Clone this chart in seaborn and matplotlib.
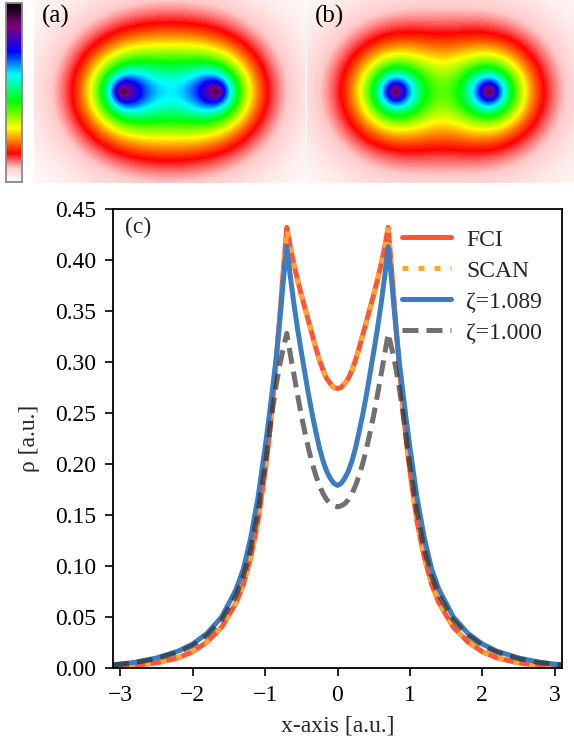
import numpy as np
import pandas as pd
import matplotlib
matplotlib.use("Agg")
import matplotlib.pyplot as plt
import seaborn as sns
from matplotlib.colors import LinearSegmentedColormap

# ---------------- data ----------------
x_axis = [-3.1, -2.8, -2.5, -2.2, -2.0, -1.8, -1.6, -1.4, -1.3, -1.2, -1.1, -1.0,
          -0.95, -0.9, -0.85, -0.8, -0.75, -0.7, -0.65, -0.6, -0.55, -0.5, -0.45,
          -0.4, -0.35, -0.3, -0.25, -0.2, -0.15, -0.1, -0.05, 0.0,
          0.05, 0.1, 0.15, 0.2, 0.25, 0.3, 0.35, 0.4, 0.45, 0.5, 0.55, 0.6, 0.65,
          0.7, 0.75, 0.8, 0.85, 0.9, 0.95, 1.0, 1.1, 1.2, 1.3, 1.4, 1.6, 1.8, 2.0,
          2.2, 2.5, 2.8, 3.1]

rho_fci = [0.0012, 0.0025, 0.0050, 0.0100, 0.0160, 0.0255, 0.0400, 0.0640, 0.0820,
           0.1080, 0.1430, 0.1930, 0.2230, 0.2580, 0.2980, 0.3420, 0.3880, 0.4320,
           0.4120, 0.3950, 0.3800, 0.3660, 0.3530, 0.3400, 0.3270, 0.3140, 0.3020,
           0.2920, 0.2840, 0.2790, 0.2750, 0.2740,
           0.2750, 0.2790, 0.2840, 0.2920, 0.3020, 0.3140, 0.3270, 0.3400, 0.3530,
           0.3660, 0.3800, 0.3950, 0.4120, 0.4320, 0.3880, 0.3420, 0.2980, 0.2580,
           0.2230, 0.1930, 0.1430, 0.1080, 0.0820, 0.0640, 0.0400, 0.0255, 0.0160,
           0.0100, 0.0050, 0.0025, 0.0012]

rho_scan = [0.0012, 0.0026, 0.0051, 0.0101, 0.0161, 0.0256, 0.0402, 0.0642, 0.0822,
            0.1082, 0.1432, 0.1932, 0.2232, 0.2582, 0.2982, 0.3420, 0.3870, 0.4300,
            0.4110, 0.3945, 0.3795, 0.3655, 0.3525, 0.3395, 0.3265, 0.3135, 0.3015,
            0.2915, 0.2835, 0.2785, 0.2745, 0.2735,
            0.2745, 0.2785, 0.2835, 0.2915, 0.3015, 0.3135, 0.3265, 0.3395, 0.3525,
            0.3655, 0.3795, 0.3945, 0.4110, 0.4300, 0.3870, 0.3420, 0.2982, 0.2582,
            0.2232, 0.1932, 0.1432, 0.1082, 0.0822, 0.0642, 0.0402, 0.0256, 0.0161,
            0.0101, 0.0051, 0.0026, 0.0012]

rho_z1089 = [0.0030, 0.0055, 0.0098, 0.0165, 0.0235, 0.0340, 0.0500, 0.0770, 0.0970,
             0.1270, 0.1660, 0.2160, 0.2430, 0.2720, 0.3020, 0.3380, 0.3780, 0.4130,
             0.3830, 0.3560, 0.3320, 0.3100, 0.2890, 0.2680, 0.2490, 0.2320, 0.2160,
             0.2030, 0.1930, 0.1860, 0.1810, 0.1790,
             0.1810, 0.1860, 0.1930, 0.2030, 0.2160, 0.2320, 0.2490, 0.2680, 0.2890,
             0.3100, 0.3320, 0.3560, 0.3830, 0.4130, 0.3780, 0.3380, 0.3020, 0.2720,
             0.2430, 0.2160, 0.1660, 0.1270, 0.0970, 0.0770, 0.0500, 0.0340, 0.0235,
             0.0165, 0.0098, 0.0055, 0.0030]

rho_z1000 = [0.0030, 0.0052, 0.0092, 0.0155, 0.0220, 0.0320, 0.0470, 0.0715, 0.0900,
             0.1160, 0.1520, 0.1980, 0.2250, 0.2520, 0.2760, 0.2960, 0.3130, 0.3280,
             0.3070, 0.2870, 0.2670, 0.2480, 0.2310, 0.2150, 0.2010, 0.1890, 0.1790,
             0.1710, 0.1650, 0.1610, 0.1590, 0.1580,
             0.1590, 0.1610, 0.1650, 0.1710, 0.1790, 0.1890, 0.2010, 0.2150, 0.2310,
             0.2480, 0.2670, 0.2870, 0.3070, 0.3280, 0.3130, 0.2960, 0.2760, 0.2520,
             0.2250, 0.1980, 0.1520, 0.1160, 0.0900, 0.0715, 0.0470, 0.0320, 0.0220,
             0.0155, 0.0092, 0.0052, 0.0030]

series_labels = ["FCI", "SCAN", "ζ=1.089", "ζ=1.000"]
x_ticks = [-3, -2, -1, 0, 1, 2, 3]
y_ticks = [0.00, 0.05, 0.10, 0.15, 0.20, 0.25, 0.30, 0.35, 0.40, 0.45]
panel_labels = ["(a)", "(b)", "(c)"]

# parameters of the 2D density maps (H2, nuclei at +-0.7 bohr)
nucleus_x = 0.7
map_a_params = {"A": 0.256, "a": 1.1, "B": 1.012, "b": 1.3}   # FCI-like map
map_b_zeta = 1.089                                                # atomic superposition
map_vmax = 0.45

# ---------------- style ----------------
sns.set_style("ticks")
plt.rcParams["font.family"] = ["Liberation Serif", "DejaVu Serif"]
FS = 17

fig = plt.figure(figsize=(5.74, 7.47), dpi=100)
W, H = 574.0, 747.0

def axes_px(x0, y0, x1, y1):
    return fig.add_axes([x0 / W, 1 - y1 / H, (x1 - x0) / W, (y1 - y0) / H])

cmap = LinearSegmentedColormap.from_list(
    "dens",
    [(0.00, "#ffffff"), (0.08, "#ffc8c8"), (0.16, "#ff0000"), (0.23, "#ff8000"),
     (0.30, "#ffff00"), (0.45, "#00ff00"), (0.60, "#00ffff"), (0.73, "#0000ff"),
     (0.87, "#800080"), (1.00, "#000000")])

ax_a = axes_px(34, 0, 306, 183)
ax_b = axes_px(307, 0, 574, 183)
cax = axes_px(6, 3, 22, 182)

ppb = 67.0  # pixels per bohr in the maps
def grid(ncols, nrows, cx, cy):
    xs = (np.arange(ncols) + 0.5 - cx) / ppb
    ys = (np.arange(nrows) + 0.5 - cy) / ppb
    X, Y = np.meshgrid(xs, ys)
    r1 = np.hypot(X + nucleus_x, Y)
    r2 = np.hypot(X - nucleus_x, Y)
    return r1, r2

r1, r2 = grid(272, 183, 136, 91.5)
p = map_a_params
dens_a = (p["A"] * (np.exp(-2 * p["a"] * r1) + np.exp(-2 * p["a"] * r2))
          + p["B"] * np.exp(-p["b"] * (r1 + r2)))
r1, r2 = grid(267, 183, 135.5, 91.5)
dens_b = map_b_zeta ** 3 / np.pi * (np.exp(-2 * map_b_zeta * r1) + np.exp(-2 * map_b_zeta * r2))

sns.heatmap(dens_a, ax=ax_a, cmap=cmap, vmin=0, vmax=map_vmax, cbar=True, cbar_ax=cax,
            xticklabels=False, yticklabels=False, rasterized=True)
sns.heatmap(dens_b, ax=ax_b, cmap=cmap, vmin=0, vmax=map_vmax, cbar=False,
            xticklabels=False, yticklabels=False, rasterized=True)
for axm, lab in zip([ax_a, ax_b], panel_labels[:2]):
    axm.set_xticks([]); axm.set_yticks([])
    axm.text(8, 5, lab, fontsize=FS + 1, va="top", ha="left", color="black")

cb = ax_a.collections[0].colorbar
cb.set_ticks(np.linspace(0, map_vmax, 11))
cb.ax.tick_params(direction="in", length=3, width=0.8, color="#888888",
                  right=True, labelright=False, left=False, labelleft=False)
cb.outline.set_visible(True)
cb.outline.set_edgecolor("#888888")
cb.outline.set_linewidth(1.3)

# ---------------- main line plot ----------------
ax = axes_px(113, 209, 562, 668)
df = pd.DataFrame({"x": x_axis, "FCI": rho_fci, "SCAN": rho_scan,
                   "z1089": rho_z1089, "z1000": rho_z1000})
lw = 3.6
sns.lineplot(data=df, x="x", y="FCI", ax=ax, color="#FF5533", lw=lw,
             label=series_labels[0], sort=False)
sns.lineplot(data=df, x="x", y="SCAN", ax=ax, color="#FFA533", lw=lw,
             linestyle=(0, (1.2, 2.0)), label=series_labels[1], sort=False)
sns.lineplot(data=df, x="x", y="z1089", ax=ax, color="#3C7DC1", lw=lw,
             label=series_labels[2], sort=False)
sns.lineplot(data=df, x="x", y="z1000", ax=ax, color="#333333", alpha=0.7, lw=lw,
             linestyle=(0, (3.2, 1.6)), label=series_labels[3], sort=False)

ax.set_xlim(-3.1, 3.1)
ax.set_ylim(0, 0.45)
ax.set_xticks(x_ticks)
ax.set_yticks(y_ticks)
ax.set_yticklabels([f"{v:.2f}" for v in y_ticks])
ax.tick_params(direction="out", length=6, width=1.2, labelsize=FS, colors="black",
               top=False, right=False, pad=6)
for s in ax.spines.values():
    s.set_visible(True)
    s.set_color("black")
    s.set_linewidth(1.3)
ax.set_xlabel("x-axis [a.u.]", fontsize=FS, labelpad=7)
ax.set_ylabel("ρ [a.u.]", fontsize=FS, labelpad=11)
ax.text(0.027, 0.983, panel_labels[2], transform=ax.transAxes, fontsize=FS,
        va="top", ha="left")
leg = ax.legend(loc="upper right", frameon=False, fontsize=FS, handlelength=2.05,
                handletextpad=0.65, labelspacing=0.4, borderaxespad=0.45)

fig.savefig("out.png", dpi=100)
